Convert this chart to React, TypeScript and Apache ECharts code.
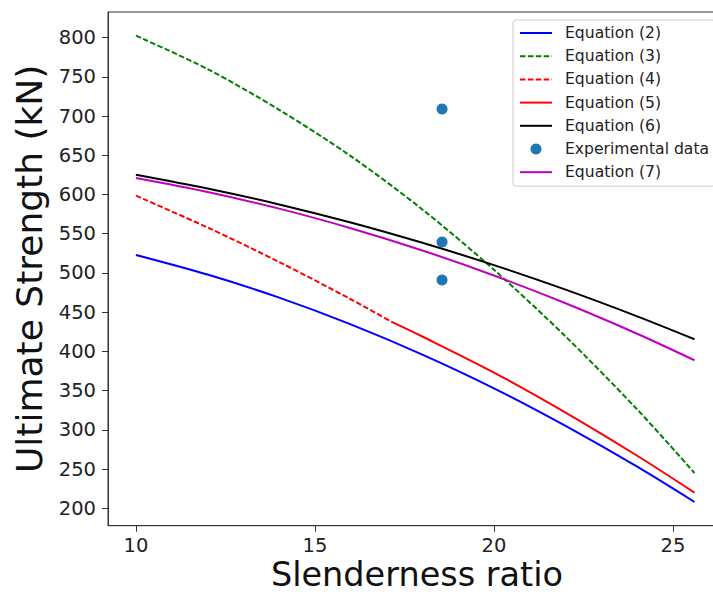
import React, { useEffect, useRef } from "react";
import * as echarts from "echarts";

// Values: [slenderness ratio, ultimate strength kN]
const eq2: number[][] = [[10, 523], [12, 498], [14, 468.5], [16, 434.5], [18, 396], [20, 353], [22, 305], [24, 253], [25.6, 208]];
const eq3: number[][] = [[10, 802.5], [12, 760], [14, 708], [16, 649], [18, 581], [20, 504], [22, 419], [24, 326], [25.6, 245]];
const eq4: number[][] = [[10, 598.5], [12, 558], [14, 514], [16, 466.5], [17.13, 438]];
const eq5: number[][] = [[17.13, 438], [18, 419], [20, 373], [22, 322], [24, 267], [25.6, 220]];
const eq6: number[][] = [[10, 625.3], [12, 607.7], [14, 587.4], [16, 564.4], [18, 538.5], [20, 510], [22, 478.7], [24, 444.7], [25.6, 415.5]];
const eq7: number[][] = [[10, 621], [12, 603.2], [14, 582], [16, 557], [18, 528.7], [20, 496.8], [22, 461.4], [24, 422.5], [25.6, 388.7]];
const experimental: number[][] = [[18.55, 709], [18.55, 539.5], [18.55, 491]];

const seriesNames = ["Equation (2)", "Equation (3)", "Equation (4)", "Equation (5)", "Equation (6)", "Experimental data", "Equation (7)"];
const xTicks = [10, 15, 20, 25];
const yTicks = [200, 250, 300, 350, 400, 450, 500, 550, 600, 650, 700, 750, 800];

const FONT = "DejaVu Sans";

export default function App() {
  const ref = useRef<HTMLDivElement>(null);
  useEffect(() => {
    document.body.style.margin = "0";
    if (!ref.current) return;
    const chart = echarts.init(ref.current, null, { renderer: "svg" });
    const lineSeries = (name: string, data: number[][], color: string, dashed: boolean) => ({
      name,
      type: "line",
      data,
      smooth: 0.3,
      symbol: "none",
      lineStyle: { color, width: 2, type: dashed ? [5.5, 2.4] : "solid" },
      itemStyle: { color },
      z: 2,
    });
    const legendData = seriesNames.map((n) =>
      n === "Experimental data" ? { name: n } : { name: n, itemStyle: { opacity: 0 } }
    );
    chart.setOption({
      animation: false,
      textStyle: { fontFamily: FONT },
      grid: {
        left: 108,
        top: 12,
        width: 618,
        height: 513.7,
        containLabel: false,
        outerBoundsMode: "none",
        show: true,
        borderColor: "#333",
        borderWidth: 1,
        backgroundColor: "transparent",
      },
      legend: {
        left: 513,
        top: 20,
        orient: "vertical",
        padding: [5, 6, 6, 6],
        itemWidth: 32,
        itemHeight: 11,
        itemGap: 7.2,
        borderColor: "#cccccc",
        borderWidth: 1,
        borderRadius: 3,
        backgroundColor: "rgba(255,255,255,0.8)",
        textStyle: { fontFamily: FONT, fontSize: 15.6, color: "#222", lineHeight: 16, padding: [0, 0, 0, 8] },
        data: legendData,
      },
      xAxis: {
        type: "value",
        min: 9.22,
        max: 26.48,
        minInterval: 5,
        maxInterval: 5,
        name: "Slenderness ratio",
        nameLocation: "middle",
        nameMoveOverlap: false,
        nameGap: 36,
        nameTextStyle: { fontFamily: FONT, fontSize: 33.5, lineHeight: 26, color: "#111" },
        axisLine: { show: true, lineStyle: { color: "#333", width: 1 } },
        axisTick: { show: true, length: 6, customValues: xTicks, lineStyle: { color: "#333" } },
        axisLabel: {
          fontFamily: FONT,
          fontSize: 19.5,
          color: "#222",
          margin: 10,
          customValues: xTicks,
        },
        splitLine: { show: false },
      },
      yAxis: {
        type: "value",
        min: 177.8,
        max: 832.7,
        minInterval: 50,
        maxInterval: 50,
        name: "Ultimate Strength (kN)",
        nameLocation: "middle",
        nameRotate: 90,
        nameGap: 61,
        nameTextStyle: { fontFamily: FONT, fontSize: 36, color: "#111" },
        axisLine: { show: true, lineStyle: { color: "#333", width: 1 } },
        axisTick: { show: true, length: 6, customValues: yTicks, lineStyle: { color: "#333" } },
        axisLabel: {
          fontFamily: FONT,
          fontSize: 19.5,
          color: "#222",
          margin: 12,
          customValues: yTicks,
        },
        splitLine: { show: false },
      },
      series: [
        lineSeries(seriesNames[0], eq2, "#0000ff", false),
        lineSeries(seriesNames[1], eq3, "#008000", true),
        lineSeries(seriesNames[2], eq4, "#ff0000", true),
        lineSeries(seriesNames[3], eq5, "#ff0000", false),
        lineSeries(seriesNames[4], eq6, "#000000", false),
        {
          name: seriesNames[5],
          type: "scatter",
          data: experimental,
          symbol: "circle",
          symbolSize: 11,
          itemStyle: { color: "#1f77b4", opacity: 1 },
          z: 3,
        },
        lineSeries(seriesNames[6], eq7, "#bf00bf", false),
      ],
    });
    return () => chart.dispose();
  }, []);
  return <div ref={ref} style={{ width: 713, height: 592 }} />;
}
